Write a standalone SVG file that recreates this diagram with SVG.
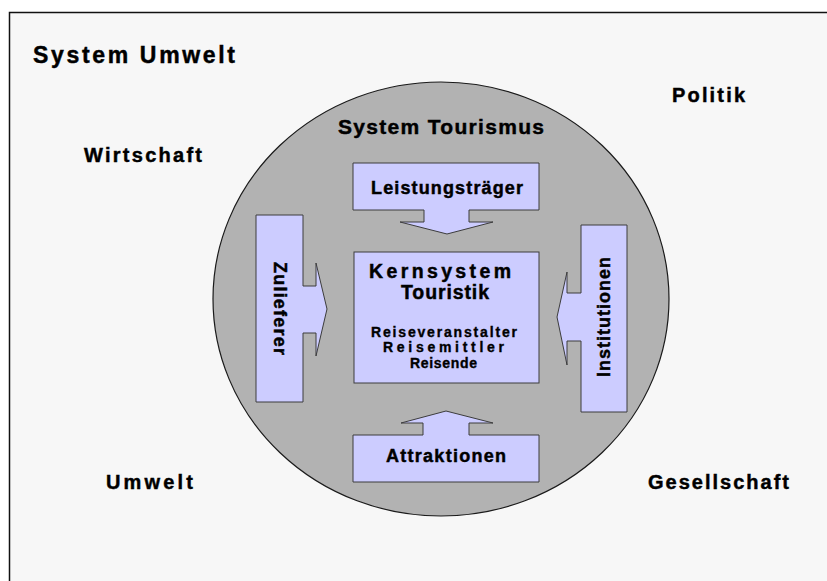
<svg xmlns="http://www.w3.org/2000/svg" width="827" height="581" viewBox="0 0 827 581">
  <style>
    .frame { fill: #f7f7f7; stroke: #111; stroke-width: 1.5; }
    .sphere { fill: #b2b2b2; stroke: #1a1a1a; stroke-width: 1.2; }
    .box { fill: #ccccff; stroke: #3c3c3c; stroke-width: 1; stroke-linejoin: miter; }
    text { font-family: "Liberation Sans", Arial, sans-serif; font-weight: bold; fill: #000; stroke: #000; stroke-width: 0.45; }
    .big { font-size: 23px; }
    .mid { font-size: 21px; }
    .env { font-size: 20px; }
    .lbl { font-size: 18px; }
    .core { font-size: 19.5px; }
    .sm { font-size: 14px; stroke-width: 0.35; }
  </style>

  <rect width="827" height="581" fill="#ffffff"/>

  <!-- environment frame -->
  <g id="umwelt">
    <rect class="frame" x="9.5" y="12.5" width="900" height="700"/>
    <text class="big" x="33" y="63" textLength="202" lengthAdjust="spacing">System Umwelt</text>
  </g>

  <!-- environment spheres -->
  <g id="politik"><text class="env" x="672" y="102" textLength="73" lengthAdjust="spacing">Politik</text></g>
  <g id="wirtschaft"><text class="env" x="84" y="162" textLength="118" lengthAdjust="spacing">Wirtschaft</text></g>
  <g id="umwelt-label"><text class="env" x="106" y="489" textLength="87" lengthAdjust="spacing">Umwelt</text></g>
  <g id="gesellschaft"><text class="env" x="648" y="489" textLength="141" lengthAdjust="spacing">Gesellschaft</text></g>

  <!-- tourism system -->
  <g id="tourismus">
    <ellipse class="sphere" cx="441" cy="299" rx="228" ry="217"/>
    <text class="mid" x="338" y="134" textLength="206" lengthAdjust="spacing">System Tourismus</text>
  </g>

  <g id="connectors">
    <!-- arrows are part of the box outlines below -->
  </g>

  <g id="leistungstraeger">
    <polygon class="box" points="353,163 539,163 539,210 469,210 469,222 493,222 447,234 400,222 424,222 424,210 353,210"/>
    <text class="lbl" x="371" y="194" textLength="152" lengthAdjust="spacing">Leistungsträger</text>
  </g>

  <g id="zulieferer">
    <polygon class="box" points="256,215 303,215 303,286 316,286 316,263 327,309 316,356 316,333 303,333 303,402 256,402"/>
    <text class="lbl" transform="translate(274,262) rotate(90)" x="0" y="0" textLength="93" lengthAdjust="spacing">Zulieferer</text>
  </g>

  <g id="institutionen">
    <polygon class="box" points="581,225 627,225 627,412 581,412 581,341 567,341 567,365 557,317 567,272 567,293 581,293"/>
    <text class="lbl" transform="translate(610,377) rotate(-90)" x="0" y="0" textLength="120" lengthAdjust="spacing">Institutionen</text>
  </g>

  <g id="attraktionen">
    <polygon class="box" points="353,435 423,435 423,423 401,423 446,411 493,423 469,423 469,435 539,435 539,482 353,482"/>
    <text class="lbl" x="386" y="462" textLength="120" lengthAdjust="spacing">Attraktionen</text>
  </g>

  <g id="kernsystem">
    <rect class="box" x="354" y="252" width="185" height="131"/>
    <text class="core" x="369" y="278" textLength="142" lengthAdjust="spacing">Kernsystem</text>
    <text class="core" x="401" y="299" textLength="88" lengthAdjust="spacing">Touristik</text>
    <text class="sm" x="371" y="337" textLength="146" lengthAdjust="spacing">Reiseveranstalter</text>
    <text class="sm" x="383" y="352" textLength="121" lengthAdjust="spacing">Reisemittler</text>
    <text class="sm" x="410" y="368" textLength="67" lengthAdjust="spacing">Reisende</text>
  </g>
</svg>
